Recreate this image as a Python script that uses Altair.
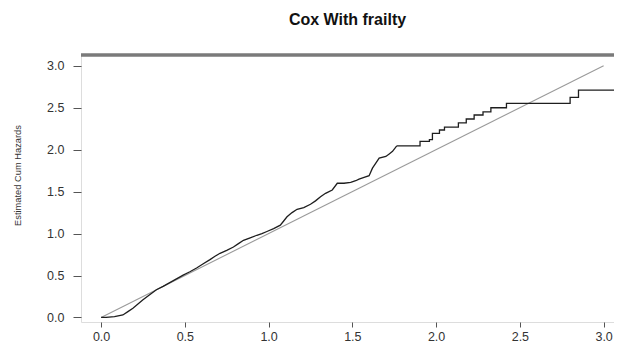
import altair as alt
import pandas as pd

# Estimated cumulative hazard (black): dense early part, then stepped tail
early_time = [0.00, 0.03, 0.08, 0.13, 0.16, 0.19, 0.22, 0.25, 0.29, 0.33, 0.37, 0.41,
              0.45, 0.49, 0.53, 0.57, 0.61, 0.65, 0.68, 0.71, 0.75, 0.79, 0.82, 0.85,
              0.89, 0.93, 0.96, 0.99, 1.03, 1.07, 1.09, 1.11, 1.14, 1.17, 1.21, 1.25,
              1.28, 1.31, 1.34, 1.38, 1.41, 1.45, 1.49, 1.52, 1.54, 1.57, 1.60, 1.62,
              1.64, 1.66, 1.70, 1.72, 1.74, 1.765]
early_value = [0.00, 0.00, 0.01, 0.03, 0.07, 0.11, 0.16, 0.21, 0.27, 0.33, 0.37, 0.415,
               0.46, 0.505, 0.545, 0.59, 0.64, 0.69, 0.73, 0.765, 0.80, 0.84, 0.88, 0.92,
               0.95, 0.98, 1.00, 1.025, 1.06, 1.10, 1.15, 1.20, 1.25, 1.29, 1.31, 1.35,
               1.39, 1.44, 1.48, 1.52, 1.60, 1.60, 1.61, 1.63, 1.65, 1.67, 1.69, 1.78,
               1.84, 1.90, 1.92, 1.95, 1.98, 2.045]
late_time = [1.765, 1.904, 1.96, 1.978, 2.02, 2.05, 2.133, 2.18, 2.227, 2.28, 2.327,
             2.42, 2.80, 2.85, 3.10]
late_value = [2.045, 2.10, 2.12, 2.195, 2.235, 2.27, 2.32, 2.366, 2.414, 2.45, 2.50,
              2.553, 2.624, 2.71, 2.71]

# Reference line (gray)
ref_x = [0.0, 3.0]
ref_y = [0.0, 3.0]

x_ticks = [0.0, 0.5, 1.0, 1.5, 2.0, 2.5, 3.0]
y_ticks = [0.0, 0.5, 1.0, 1.5, 2.0, 2.5, 3.0]

W, H = 533, 267
FONT = "Liberation Sans"

early_df = pd.DataFrame({"t": early_time, "h": early_value})
late_df = pd.DataFrame({"t": late_time, "h": late_value})
ref_df = pd.DataFrame({"t": ref_x, "h": ref_y})

xscale = alt.Scale(domain=[-0.12, 3.062], nice=False, zero=False)
yscale = alt.Scale(domain=[-0.054, 3.129], nice=False, zero=False)

xaxis = alt.Axis(values=x_ticks, format=".1f", title=None, grid=False, domain=False,
                 tickSize=5, tickColor="#555", labelPadding=3, labelFont=FONT,
                 labelFontSize=12.5, labelColor="#333")
yaxis = alt.Axis(values=y_ticks, format=".1f", title="Estimated Cum Hazards", grid=False,
                 domain=False, tickSize=8, tickColor="#555", labelPadding=9,
                 labelFont=FONT, labelFontSize=12.5, labelColor="#333",
                 titleFont=FONT, titleFontSize=9.3, titleFontWeight="normal",
                 titleColor="#333", titleX=-63.5, titleY=120, titleAngle=270,
                 titleAlign="center", titleBaseline="middle")

ref = alt.Chart(ref_df).mark_line(color="#9a9a9a", strokeWidth=1.1, clip=True).encode(
    x=alt.X("t:Q", scale=xscale, axis=xaxis),
    y=alt.Y("h:Q", scale=yscale, axis=yaxis),
)

early = alt.Chart(early_df).mark_line(color="#1e1e1e", strokeWidth=1.3, clip=True).encode(
    x=alt.X("t:Q", scale=xscale),
    y=alt.Y("h:Q", scale=yscale),
)

late = alt.Chart(late_df).mark_line(color="#1e1e1e", strokeWidth=1.3,
                                    interpolate="step-after", clip=True).encode(
    x=alt.X("t:Q", scale=xscale),
    y=alt.Y("h:Q", scale=yscale),
)

top_border = alt.Chart(ref_df).mark_rule(color="#7a7a7a", strokeWidth=3).encode(
    x=alt.value(0), x2=alt.value(W), y=alt.value(0)
)

chart = alt.layer(ref, early, late, top_border).properties(
    width=W, height=H,
    title=alt.TitleParams("Cox With frailty", font=FONT, fontSize=16, fontWeight="bold",
                          color="#111", anchor="middle", frame="group",
                          baseline="alphabetic", offset=13),
    autosize=alt.AutoSizeParams(type="none"),
    padding={"left": 73, "top": 47, "right": 0, "bottom": 21},
).configure_view(stroke="#888", strokeWidth=1.3).configure(background="white")

chart.save("out.html", embed_options={"renderer": "svg", "actions": False})
